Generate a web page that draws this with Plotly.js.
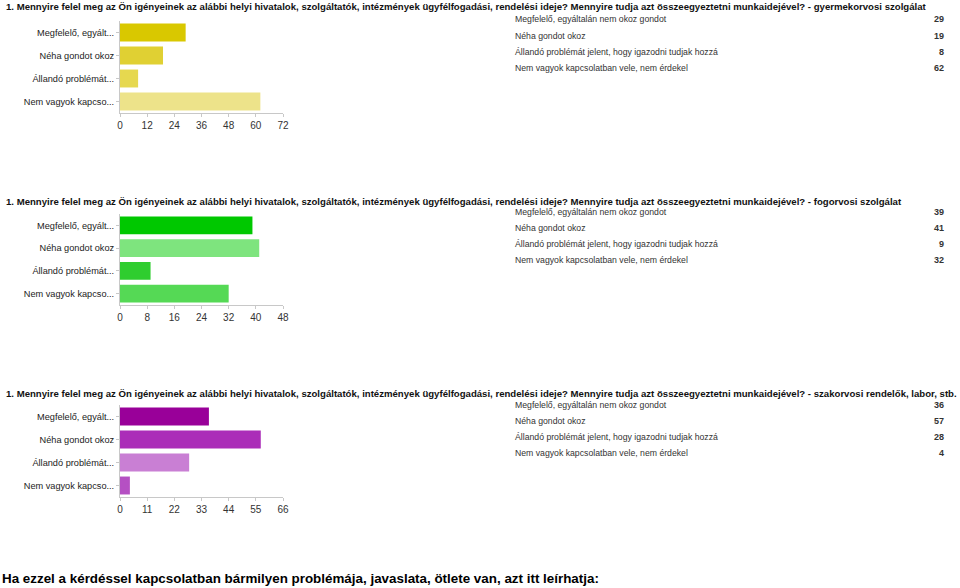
<!DOCTYPE html>
<html>
<head>
<meta charset="utf-8">
<script src="https://cdn.plot.ly/plotly-3.0.1.min.js"></script>
<style>
  html, body { margin: 0; padding: 0; background: #fff; }
  #chart { width: 960px; height: 588px; }
</style>
</head>
<body>
<div id="chart"></div>
<script>
// answer options, full text (used in the tables on the right)
const categories = [
    'Megfelelő, egyáltalán nem okoz gondot',
    'Néha gondot okoz',
    'Állandó problémát jelent, hogy igazodni tudjak hozzá',
    'Nem vagyok kapcsolatban vele, nem érdekel',
];
// the cut-down labels next to the bars
const shortLabels = [
    'Megfelelő, egyált...',
    'Néha gondot okoz',
    'Állandó problémát...',
    'Nem vagyok kapcso...',
];

const questionText = '1. Mennyire felel meg az Ön igényeinek az alábbi helyi hivatalok, szolgáltatók, intézmények ügyfélfogadási, rendelési ideje? Mennyire tudja azt összeegyeztetni munkaidejével?';
const services = ['gyermekorvosi szolgálat', 'fogorvosi szolgálat', 'szakorvosi rendelők, labor, stb.'];

const gyermekorvosValues = [29, 19, 8, 62];
const fogorvosValues = [39, 41, 9, 32];
const szakorvosValues = [36, 57, 28, 4];

const gyermekorvosTicks = [0, 12, 24, 36, 48, 60, 72];
const fogorvosTicks = [0, 8, 16, 24, 32, 40, 48];
const szakorvosTicks = [0, 11, 22, 33, 44, 55, 66];

const gyermekorvosColors = ['#d9c800', '#e0d033', '#e6d84f', '#ede38a'];
const fogorvosColors = ['#00c800', '#7ee47e', '#2fcd2f', '#55d955'];
const szakorvosColors = ['#990099', '#ab2db8', '#c97fd4', '#b550c3'];

const footerText = 'Ha ezzel a kérdéssel kapcsolatban bármilyen problémája, javaslata, ötlete van, azt itt leírhatja:';

const W = 960, H = 588;
const px = (x) => x / W;
const py = (y) => 1 - y / H;

const panels = [
    { values: gyermekorvosValues, ticks: gyermekorvosTicks, colors: gyermekorvosColors, top: 23, bottom: 112, titleY: 7, rowY: [19, 36, 52, 68] },
    { values: fogorvosValues, ticks: fogorvosTicks, colors: fogorvosColors, top: 216, bottom: 304, titleY: 201, rowY: [212, 228, 244, 260] },
    { values: szakorvosValues, ticks: szakorvosTicks, colors: szakorvosColors, top: 407, bottom: 496, titleY: 393, rowY: [405, 421, 437, 453] },
];

const traces = [];
const annotations = [];
const layout = {
    width: W,
    height: H,
    margin: { t: 0, r: 0, b: 0, l: 0 },
    paper_bgcolor: '#fff',
    plot_bgcolor: '#fff',
    showlegend: false,
    font: { family: 'Arial, Liberation Sans, sans-serif', size: 10, color: '#222' },
};

panels.forEach((p, i) => {
    const n = i === 0 ? '' : String(i + 1);
    traces.push({
        type: 'bar',
        orientation: 'h',
        x: p.values,
        y: shortLabels,
        xaxis: 'x' + n,
        yaxis: 'y' + n,
        marker: { color: p.colors },
        hoverinfo: 'x+y',
    });

    layout['xaxis' + n] = {
        domain: [px(120), px(283)],
        anchor: 'y' + n,
        range: [0, p.ticks[p.ticks.length - 1]],
        tickvals: p.ticks,
        showgrid: false,
        zeroline: false,
        showline: true,
        linecolor: '#c8c8c8',
        ticks: 'outside',
        ticklen: 3,
        tickcolor: '#c8c8c8',
        tickfont: { size: 10, color: '#333' },
        fixedrange: true,
    };
    layout['yaxis' + n] = {
        domain: [py(p.bottom + 1), py(p.top - 2)],
        anchor: 'x' + n,
        autorange: 'reversed',
        showgrid: false,
        zeroline: false,
        showline: true,
        linecolor: '#c8c8c8',
        ticks: 'outside',
        ticklen: 3,
        tickcolor: '#c8c8c8',
        tickfont: { size: 9.2, color: '#222' },
        fixedrange: true,
    };

    // question title across the whole width
    annotations.push({
        xref: 'paper', yref: 'paper',
        x: px(4), y: py(p.titleY),
        xanchor: 'left', yanchor: 'middle',
        text: '<b>' + questionText + ' - ' + services[i] + '</b>',
        showarrow: false,
        font: { size: 9.6, color: '#111' },
    });

    // table of counts on the right
    categories.forEach((cat, j) => {
        annotations.push({
            xref: 'paper', yref: 'paper',
            x: px(513), y: py(p.rowY[j]),
            xanchor: 'left', yanchor: 'middle',
            text: cat,
            showarrow: false,
            font: { size: 8.7, color: '#333' },
        });
        annotations.push({
            xref: 'paper', yref: 'paper',
            x: px(946), y: py(p.rowY[j]),
            xanchor: 'right', yanchor: 'middle',
            text: '<b>' + p.values[j] + '</b>',
            showarrow: false,
            font: { size: 9, color: '#333' },
        });
    });
});

annotations.push({
    xref: 'paper', yref: 'paper',
    x: 0, y: py(578),
    xanchor: 'left', yanchor: 'middle',
    text: '<b>' + footerText + '</b>',
    showarrow: false,
    font: { size: 13.4, color: '#000' },
});

layout.annotations = annotations;
layout.bargap = 0.22;

Plotly.newPlot('chart', traces, layout, { displayModeBar: false, staticPlot: true });
</script>
</body>
</html>
